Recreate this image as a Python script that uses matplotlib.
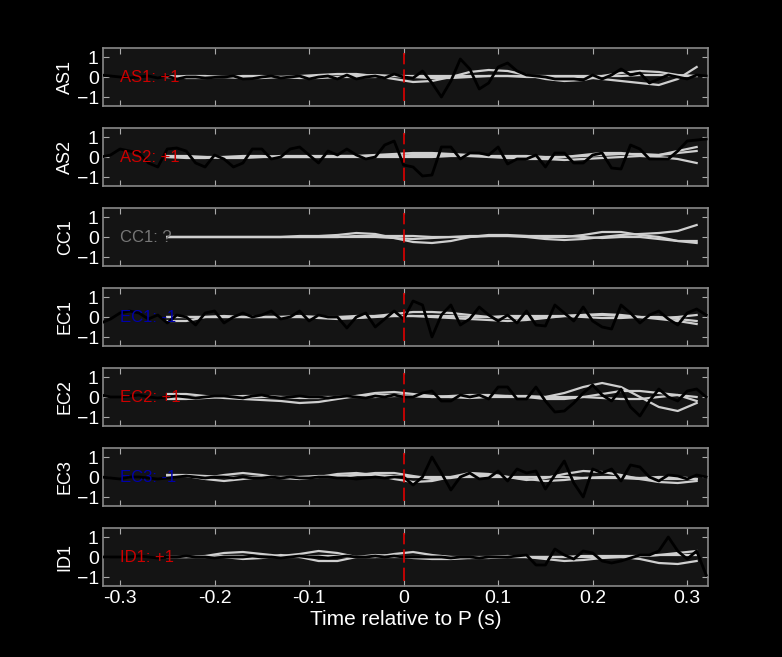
import numpy as np
import matplotlib
matplotlib.use("Agg")
import matplotlib.pyplot as plt

plt.rcParams['font.family'] = ['Liberation Sans', 'DejaVu Sans']

stations = ["AS1", "AS2", "CC1", "EC1", "EC2", "EC3", "ID1"]
polarity = ["AS1: +1", "AS2: +1", "CC1: ?", "EC1: -1", "EC2: +1", "EC3: -1", "ID1: +1"]
label_colors = ["#cc0000", "#cc0000", "#777777", "#0000aa", "#cc0000", "#0000aa", "#cc0000"]

t_obs = np.round(np.arange(-0.32, 0.3201, 0.01), 2)
obs = {
 "AS1": [0.1,0.05,0,-0.05,0,0.05,-0.05,0.05,-0.1,0,0,-0.05,-0.02,0,0.05,-0.1,-0.08,0,0.05,-0.05,0,0.05,-0.1,0,0.05,-0.1,0.1,-0.1,0,0.05,-0.05,0.15,0,-0.05,0.3,-0.3,-1.0,-0.2,0.9,0.4,-0.6,-0.3,0.5,0.7,0.3,0.1,0.05,0,-0.1,-0.1,-0.1,-0.15,0.1,-0.1,0.1,0.4,0.1,0.2,-0.3,-0.1,0.1,0,-0.1,0.1,0.05],
 "AS2": [0,0.1,0.4,0.3,0.2,-0.3,-0.5,0.4,0.45,0.3,-0.3,-0.5,0.1,-0.1,-0.5,-0.3,0.4,0.4,-0.1,0,0.4,0.5,0.1,-0.3,0.3,0.1,0.4,0.1,-0.1,0,0.6,0.8,-0.4,-0.5,-0.95,-0.9,0.5,0.5,-0.1,0.2,0.2,0.1,0.5,-0.35,-0.1,-0.1,0.1,-0.5,0.2,0.2,-0.3,-0.3,0.1,0.2,-0.55,-0.6,0.6,0.4,-0.1,-0.1,-0.1,0.3,0.8,0.85,0.9],
 "EC1": [-0.3,-0.1,0.2,0.3,0.2,-0.1,0.1,-0.3,0.1,0,-0.4,0.2,0.3,-0.3,0,0.2,0,0.1,0.3,-0.1,0,0.3,-0.2,0.1,0,0,-0.55,0,0.2,-0.5,-0.1,0.3,-0.1,0.8,0.6,-1.0,0.1,0.6,-0.4,-0.1,0.5,0.1,-0.2,0.1,-0.3,0.3,-0.4,-0.45,0.6,0.2,-0.2,0.5,-0.2,-0.5,-0.6,0.6,0.2,-0.3,0.1,0.3,-0.1,-0.4,0.2,0.4,0.1],
 "EC2": [0.1,0,0,0.05,0.1,0,-0.05,0,0.05,0,-0.05,0,0.05,0.05,0,-0.05,0.05,0.1,0,-0.05,0,0.05,0,0,-0.05,0,0.05,0,-0.05,0.05,0,0.1,0,0,0.2,0.3,-0.2,-0.2,0.1,0,0.1,-0.1,0.5,0.5,-0.1,-0.1,0.5,-0.2,-0.75,-0.7,-0.3,0.2,0.6,0.1,-0.2,0.4,-0.5,-0.95,-0.2,0.4,0,-0.2,0.3,0.4,0],
 "EC3": [0,-0.05,-0.1,0,0,-0.05,-0.1,-0.05,0,0.05,0,-0.05,0,0,-0.05,0,-0.05,-0.05,0,-0.05,0,-0.05,-0.05,0,0,-0.05,-0.05,-0.1,-0.05,0,-0.05,0,0,-0.4,0,1.0,0.2,-0.65,0,0.2,-0.1,-0.05,0.3,-0.2,0.4,0.2,0.3,-0.6,0.1,0.8,-0.3,-1.0,0.4,0.2,0.4,-0.2,0.6,0.5,0,-0.2,0.1,0.05,-0.1,0.1,0],
 "ID1": [0,0,0,0,0.05,0,-0.05,0,0,0.05,0,0,-0.05,0,0,0,0.05,0,0,-0.05,0,0.05,0,0,-0.05,0,0.05,0,0,0.05,0,0.05,0,0,0,0,0,-0.05,0,0,-0.05,0,0,0,0.05,0.1,-0.4,-0.4,0.4,0.1,-0.1,0.3,0.2,-0.2,-0.3,-0.2,-0.05,0.1,0.1,0.3,1.0,0.3,-0.1,0.3,-0.9],
}

t_syn = np.round(np.arange(-0.25, 0.3201, 0.02), 2)
syn = {
 "AS1": [[0,0.05,0.05,0,-0.05,-0.05,0,0.05,0.1,0.15,0.15,0.05,-0.1,-0.25,-0.2,0,0.25,0.35,0.3,0.1,-0.1,-0.2,-0.15,0.05,0.2,0.3,0.25,0.1,0.05],
         [0,-0.05,-0.05,0,0.05,0.05,0,-0.05,-0.05,0,0.05,0.1,0.05,0,-0.05,-0.05,0,0.05,0.05,0,0,0,0,-0.1,-0.2,-0.3,-0.4,-0.1,0.5],
         [0.05,0,0,0,0,0,0,0,0,0,0,0,0.05,0.05,0.05,0.05,0.05,0.05,0.05,0.05,0.05,0.05,0.05,0.05,0.05,0.1,0.1,0.05,0.05]],
 "AS2": [[0.05,0.05,0,-0.05,-0.05,0,0.05,0.05,0.05,0.05,0.05,0.1,0.15,0.2,0.2,0.15,0.1,0.05,0,-0.1,-0.1,0,0.1,0.2,0.2,0.1,0.1,0.3,0.5],
         [0,0,0,0,0,0,0,0,0,0,0,0,0,0,0,0.05,0.05,0,-0.05,-0.05,-0.1,-0.15,-0.1,-0.05,0,0.05,0,-0.1,-0.3],
         [0,-0.05,-0.05,0,0.05,0.05,0,0,0,0.05,0.05,0.05,0.05,0.1,0.1,0.1,0.05,0.05,0.05,0.05,0,0,0.05,0.1,0.15,0.15,0.1,0.2,0.3]],
 "CC1": [[0,0,0,0,0,0,0,0.05,0.05,0.1,0.2,0.15,-0.05,-0.25,-0.3,-0.2,0,0.1,0.1,0.05,0,0,0.1,0.25,0.25,0.1,0,-0.2,-0.3],
         [0,0,0,0,0,0,0,0,0,0,0.05,0.05,0.05,0.05,0,0,0.05,0.05,0.05,0,-0.1,-0.15,-0.1,0,0.1,0.15,0.2,0.3,0.6],
         [0,0,0,0,0,0,0,0,0,0,0,0,-0.05,-0.1,-0.05,0,0,0.05,0.05,0.05,0.05,0.05,0,-0.05,0,0,-0.1,-0.2,-0.2]],
 "EC1": [[-0.2,-0.2,0,0.05,0,0,0,0.05,0,-0.05,-0.05,0.05,0.15,0.25,0.25,0.2,0.1,0,-0.05,-0.05,0,0.05,0.1,0.15,0.1,0,-0.1,-0.2,-0.35],
         [0,0,0,0,0,0,0,0,-0.05,-0.1,-0.05,0,0.05,0.05,0,-0.05,-0.1,-0.15,-0.2,-0.15,-0.05,0.05,0.1,0.1,0.05,0,-0.05,0,0.1],
         [0,0,0,0,0,0,0,0,0,0,0.05,0.05,0.05,0.05,0.05,0.05,0,0,0.05,0.05,0.05,0.05,0,-0.05,-0.05,0,0,-0.1,-0.2]],
 "EC2": [[0.15,0.15,0.05,-0.05,-0.1,-0.15,-0.2,-0.3,-0.25,-0.1,0.05,0.2,0.25,0.15,0.05,0,-0.05,0,0.05,0.05,0,0.2,0.5,0.7,0.5,0,-0.5,-0.7,-0.3],
         [-0.1,-0.1,-0.05,0,0.05,0.05,0,-0.05,-0.05,0,0.05,0.1,0.1,0.05,0,0.05,0.1,0.1,0.05,0,-0.1,-0.1,0,0.15,0.3,0.3,0.2,0.1,-0.2],
         [0,0,0,0,0,0,0,0,0,0,0,0,0.05,0.05,0,0,0,0,0,0,0,0,0,-0.05,-0.1,-0.1,0,0.1,0]],
 "EC3": [[0.1,0.05,-0.05,0.1,0.2,0.1,-0.05,-0.1,0,0.15,0.2,0.1,-0.1,-0.25,-0.2,0,0.2,0.15,0,-0.15,-0.05,0.15,0.3,0.25,0.1,-0.1,-0.25,-0.3,-0.2],
         [0.05,0.05,-0.1,-0.2,-0.1,0,0,0,0,0,0.1,0.2,0.2,0.05,-0.1,-0.05,0.1,0.1,0,-0.1,-0.2,-0.15,-0.05,0,0,-0.05,0,0,-0.1],
         [0.1,0.1,0.05,0,0,0,0,0,0.05,0.05,0.1,0.1,0.05,0,0,0,0,0,0,0,0,0,-0.05,-0.05,-0.05,-0.1,-0.1,-0.1,-0.1]],
 "ID1": [[0,0,0.05,0.2,0.25,0.15,0.05,0.15,0.3,0.2,0,0,0.15,0.25,0.1,0,-0.05,-0.05,0,0,0,0,0,0,0,-0.1,-0.3,-0.35,-0.2],
         [0,0,0,0,-0.1,-0.05,0.1,0,-0.2,-0.2,0,0.1,0.05,-0.05,-0.1,-0.1,-0.05,0,0.05,0,-0.1,-0.2,-0.15,-0.05,0,0.05,0.1,0.2,0.3],
         [0,0,0,0.05,0.05,0,0,0,0.05,0.05,0,0,0,0,0,0,0,0,0,0,0,0,0.05,0.05,0.05,0.05,0.1,0.1,0.1]],
}

fig = plt.figure(figsize=(7.82, 6.57), dpi=100, facecolor='black')
W, H = 782, 657
left, right = 103, 708
for i, st in enumerate(stations):
    top = 48 + 80 * i
    ax = fig.add_axes([left / W, 1 - (top + 58) / H, (right - left) / W, 58 / H])
    ax.set_facecolor('#141414')
    ax.text(-0.3, 0, polarity[i], color=label_colors[i], fontsize=12, va='center', ha='left', zorder=5)
    for curve in syn[st]:
        ax.plot(t_syn[:len(curve)], curve, color='#cfcfcf', lw=1.6, zorder=2)
    if st in obs:
        ax.plot(t_obs[:len(obs[st])], obs[st], color='black', lw=2, zorder=3)
    ax.plot([0, 0], [-1.2, 1.2], color='#dd0000', lw=1.2, ls=(0, (8, 3)), zorder=4)
    ax.set_xlim(-0.318, 0.322)
    ax.set_ylim(-1.45, 1.45)
    ax.set_yticks([-1, 0, 1])
    ax.set_xticks([-0.3, -0.2, -0.1, 0, 0.1, 0.2, 0.3])
    ax.tick_params(direction='in', colors='#aaaaaa', labelcolor='white', labelsize=14,
                   top=True, right=True, length=4, pad=3)
    for s in ax.spines.values():
        s.set_color('#888888')
        s.set_linewidth(1.2)
    ax.set_ylabel(st, color='white', fontsize=13, labelpad=2)
    if i < len(stations) - 1:
        ax.set_xticklabels([])
    else:
        ax.set_xticklabels(['-0.3', '-0.2', '-0.1', '0', '0.1', '0.2', '0.3'])
        ax.set_xlabel('Time relative to P (s)', color='white', fontsize=15, labelpad=2)

fig.savefig('out.png', dpi=100, facecolor='black')
